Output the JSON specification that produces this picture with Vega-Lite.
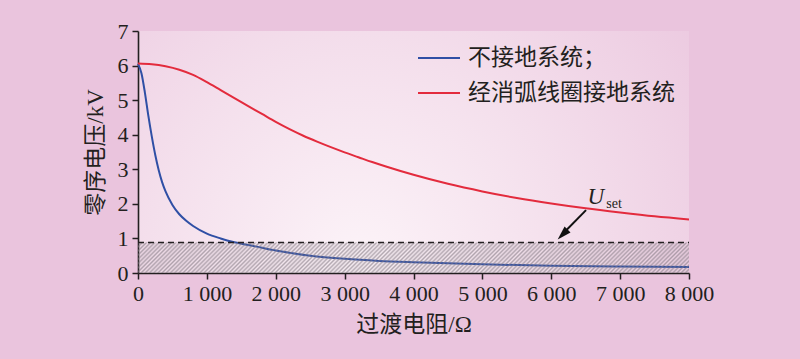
{
  "$schema": "https://vega.github.io/schema/vega-lite/v6.json",
  "width": 551,
  "height": 242,
  "autosize": {"type": "none"},
  "padding": {"left": 138, "top": 31, "right": 111, "bottom": 86},
  "background": "#eac4dd",
  "view": {
    "stroke": null,
    "fill": {
      "gradient": "radial",
      "x1": 0.4, "y1": 0.7, "r1": 0,
      "x2": 0.4, "y2": 0.7, "r2": 0.85,
      "stops": [
        {"offset": 0, "color": "#fcf3f8"},
        {"offset": 0.45, "color": "#f4dfec"},
        {"offset": 1, "color": "#eac4dd"}
      ]
    }
  },
  "config": {
    "font": "Liberation Serif, Noto Sans CJK SC",
    "axis": {
      "grid": false,
      "zindex": 1,
      "domainColor": "#231f20",
      "domainWidth": 1.6,
      "tickColor": "#231f20",
      "tickWidth": 1.5,
      "labelFont": "Liberation Serif",
      "labelFontSize": 22,
      "labelColor": "#231f20",
      "labelFlush": false,
      "labelOverlap": false,
      "titleFont": "Liberation Serif, Noto Sans CJK SC",
      "titleFontSize": 23,
      "titleFontWeight": "normal",
      "titleColor": "#231f20"
    },
    "legend": {
      "orient": "none",
      "legendX": 279,
      "legendY": 5,
      "symbolType": "stroke",
      "symbolSize": 1764,
      "symbolStrokeWidth": 2,
      "labelFont": "Liberation Serif, Noto Sans CJK SC",
      "labelFontSize": 23,
      "labelColor": "#231f20",
      "labelOffset": 7,
      "labelLimit": 400,
      "rowPadding": 1,
      "padding": 0
    }
  },
  "data": {
    "values": [
      {"kind": "curve", "R": 0, "U": 6.05, "s": "不接地系统；"},
      {"kind": "curve", "R": 50, "U": 5.78, "s": "不接地系统；"},
      {"kind": "curve", "R": 100, "U": 5.22, "s": "不接地系统；"},
      {"kind": "curve", "R": 150, "U": 4.55, "s": "不接地系统；"},
      {"kind": "curve", "R": 200, "U": 3.95, "s": "不接地系统；"},
      {"kind": "curve", "R": 250, "U": 3.42, "s": "不接地系统；"},
      {"kind": "curve", "R": 300, "U": 2.98, "s": "不接地系统；"},
      {"kind": "curve", "R": 350, "U": 2.63, "s": "不接地系统；"},
      {"kind": "curve", "R": 400, "U": 2.36, "s": "不接地系统；"},
      {"kind": "curve", "R": 500, "U": 1.97, "s": "不接地系统；"},
      {"kind": "curve", "R": 600, "U": 1.7, "s": "不接地系统；"},
      {"kind": "curve", "R": 700, "U": 1.51, "s": "不接地系统；"},
      {"kind": "curve", "R": 800, "U": 1.36, "s": "不接地系统；"},
      {"kind": "curve", "R": 1000, "U": 1.14, "s": "不接地系统；"},
      {"kind": "curve", "R": 1200, "U": 1.0, "s": "不接地系统；"},
      {"kind": "curve", "R": 1400, "U": 0.89, "s": "不接地系统；"},
      {"kind": "curve", "R": 1700, "U": 0.77, "s": "不接地系统；"},
      {"kind": "curve", "R": 2000, "U": 0.65, "s": "不接地系统；"},
      {"kind": "curve", "R": 2500, "U": 0.5, "s": "不接地系统；"},
      {"kind": "curve", "R": 3000, "U": 0.41, "s": "不接地系统；"},
      {"kind": "curve", "R": 3500, "U": 0.35, "s": "不接地系统；"},
      {"kind": "curve", "R": 4000, "U": 0.31, "s": "不接地系统；"},
      {"kind": "curve", "R": 5000, "U": 0.25, "s": "不接地系统；"},
      {"kind": "curve", "R": 6000, "U": 0.21, "s": "不接地系统；"},
      {"kind": "curve", "R": 7000, "U": 0.19, "s": "不接地系统；"},
      {"kind": "curve", "R": 8000, "U": 0.17, "s": "不接地系统；"},
      {"kind": "curve", "R": 0, "U": 6.06, "s": "经消弧线圈接地系统"},
      {"kind": "curve", "R": 200, "U": 6.04, "s": "经消弧线圈接地系统"},
      {"kind": "curve", "R": 400, "U": 5.98, "s": "经消弧线圈接地系统"},
      {"kind": "curve", "R": 600, "U": 5.88, "s": "经消弧线圈接地系统"},
      {"kind": "curve", "R": 800, "U": 5.73, "s": "经消弧线圈接地系统"},
      {"kind": "curve", "R": 1000, "U": 5.52, "s": "经消弧线圈接地系统"},
      {"kind": "curve", "R": 1200, "U": 5.29, "s": "经消弧线圈接地系统"},
      {"kind": "curve", "R": 1400, "U": 5.06, "s": "经消弧线圈接地系统"},
      {"kind": "curve", "R": 1600, "U": 4.83, "s": "经消弧线圈接地系统"},
      {"kind": "curve", "R": 1800, "U": 4.6, "s": "经消弧线圈接地系统"},
      {"kind": "curve", "R": 2000, "U": 4.37, "s": "经消弧线圈接地系统"},
      {"kind": "curve", "R": 2200, "U": 4.16, "s": "经消弧线圈接地系统"},
      {"kind": "curve", "R": 2400, "U": 3.97, "s": "经消弧线圈接地系统"},
      {"kind": "curve", "R": 2600, "U": 3.8, "s": "经消弧线圈接地系统"},
      {"kind": "curve", "R": 2800, "U": 3.64, "s": "经消弧线圈接地系统"},
      {"kind": "curve", "R": 3000, "U": 3.49, "s": "经消弧线圈接地系统"},
      {"kind": "curve", "R": 3200, "U": 3.35, "s": "经消弧线圈接地系统"},
      {"kind": "curve", "R": 3400, "U": 3.21, "s": "经消弧线圈接地系统"},
      {"kind": "curve", "R": 3600, "U": 3.08, "s": "经消弧线圈接地系统"},
      {"kind": "curve", "R": 4000, "U": 2.84, "s": "经消弧线圈接地系统"},
      {"kind": "curve", "R": 4500, "U": 2.58, "s": "经消弧线圈接地系统"},
      {"kind": "curve", "R": 5000, "U": 2.36, "s": "经消弧线圈接地系统"},
      {"kind": "curve", "R": 5500, "U": 2.17, "s": "经消弧线圈接地系统"},
      {"kind": "curve", "R": 6000, "U": 2.01, "s": "经消弧线圈接地系统"},
      {"kind": "curve", "R": 6500, "U": 1.87, "s": "经消弧线圈接地系统"},
      {"kind": "curve", "R": 7000, "U": 1.75, "s": "经消弧线圈接地系统"},
      {"kind": "curve", "R": 7500, "U": 1.64, "s": "经消弧线圈接地系统"},
      {"kind": "curve", "R": 8000, "U": 1.55, "s": "经消弧线圈接地系统"},
      {"kind": "band", "R": 0, "R2": 8000, "U": 0, "U2": 0.88},
      {"kind": "threshold", "R": 0, "R2": 8000, "U": 0.88},
      {"kind": "arrow", "R": 6505, "R2": 6200, "U": 1.82, "U2": 1.2},
      {"kind": "head", "R": 6093, "U": 0.97},
      {"kind": "label", "R": 6528, "U": 1.99, "t": "U"},
      {"kind": "sub", "R": 6800, "U": 1.87, "t": "set"}
    ]
  },
  "layer": [
    {
      "transform": [{"filter": "datum.kind === 'curve'"}],
      "mark": {"type": "line", "strokeWidth": 2, "interpolate": "monotone"},
      "encoding": {
        "x": {
          "field": "R", "type": "quantitative",
          "scale": {"domain": [0, 8000], "nice": false},
          "axis": {
            "title": "过渡电阻/Ω",
            "values": [0, 1000, 2000, 3000, 4000, 5000, 6000, 7000, 8000],
            "tickCount": 20,
            "labelOverlap": false,
            "ticks": true,
            "tickSize": 6,
            "labelPadding": 4,
            "encode": {"ticks": {"update": {"y2": {"value": -6}}}},
            "labelExpr": "replace(format(datum.value, ',d'), ',', ' ')",
            "titleX": 275.5,
            "titleY": 51,
            "titleAlign": "center",
            "titleBaseline": "middle"
          }
        },
        "y": {
          "field": "U", "type": "quantitative",
          "scale": {"domain": [0, 7], "nice": false},
          "axis": {
            "title": "零序电压/kV",
            "values": [0, 1, 2, 3, 4, 5, 6, 7],
            "tickCount": 20,
            "format": "d",
            "labelOverlap": false,
            "ticks": true,
            "tickSize": 6,
            "labelPadding": 4,
            "encode": {"ticks": {"update": {"x2": {"value": 6}}}},
            "titleX": -43,
            "titleY": 121,
            "titleAlign": "center",
            "titleBaseline": "middle",
            "titleAngle": -90
          }
        },
        "color": {
          "field": "s", "type": "nominal",
          "scale": {"domain": ["不接地系统；", "经消弧线圈接地系统"], "range": ["#2f4fa5", "#e32b3d"]},
          "legend": {"title": null}
        }
      }
    },
    {
      "transform": [{"filter": "datum.kind === 'band'"}],
      "mark": {
        "type": "rect",
        "fill": {
          "gradient": "linear",
          "x1": 0, "y1": 0, "x2": 1.052, "y2": 0.05807,
          "stops": [
            {"offset": 0, "color": "rgba(130,120,130,.6)"},
            {"offset": 0.0036, "color": "rgba(130,120,130,.05)"},
            {"offset": 0.0072, "color": "rgba(130,120,130,.6)"},
            {"offset": 0.0108, "color": "rgba(130,120,130,.05)"},
            {"offset": 0.0144, "color": "rgba(130,120,130,.6)"},
            {"offset": 0.018, "color": "rgba(130,120,130,.05)"},
            {"offset": 0.0216, "color": "rgba(130,120,130,.6)"},
            {"offset": 0.0252, "color": "rgba(130,120,130,.05)"},
            {"offset": 0.0288, "color": "rgba(130,120,130,.6)"},
            {"offset": 0.0324, "color": "rgba(130,120,130,.05)"},
            {"offset": 0.036, "color": "rgba(130,120,130,.6)"},
            {"offset": 0.0396, "color": "rgba(130,120,130,.05)"},
            {"offset": 0.0432, "color": "rgba(130,120,130,.6)"},
            {"offset": 0.0468, "color": "rgba(130,120,130,.05)"},
            {"offset": 0.0504, "color": "rgba(130,120,130,.6)"},
            {"offset": 0.054, "color": "rgba(130,120,130,.05)"},
            {"offset": 0.0576, "color": "rgba(130,120,130,.6)"},
            {"offset": 0.0612, "color": "rgba(130,120,130,.05)"},
            {"offset": 0.0648, "color": "rgba(130,120,130,.6)"},
            {"offset": 0.0684, "color": "rgba(130,120,130,.05)"},
            {"offset": 0.072, "color": "rgba(130,120,130,.6)"},
            {"offset": 0.0756, "color": "rgba(130,120,130,.05)"},
            {"offset": 0.0792, "color": "rgba(130,120,130,.6)"},
            {"offset": 0.0828, "color": "rgba(130,120,130,.05)"},
            {"offset": 0.0864, "color": "rgba(130,120,130,.6)"},
            {"offset": 0.09, "color": "rgba(130,120,130,.05)"},
            {"offset": 0.0936, "color": "rgba(130,120,130,.6)"},
            {"offset": 0.0972, "color": "rgba(130,120,130,.05)"},
            {"offset": 0.1008, "color": "rgba(130,120,130,.6)"},
            {"offset": 0.1044, "color": "rgba(130,120,130,.05)"},
            {"offset": 0.108, "color": "rgba(130,120,130,.6)"},
            {"offset": 0.1116, "color": "rgba(130,120,130,.05)"},
            {"offset": 0.1152, "color": "rgba(130,120,130,.6)"},
            {"offset": 0.1188, "color": "rgba(130,120,130,.05)"},
            {"offset": 0.1224, "color": "rgba(130,120,130,.6)"},
            {"offset": 0.126, "color": "rgba(130,120,130,.05)"},
            {"offset": 0.1296, "color": "rgba(130,120,130,.6)"},
            {"offset": 0.1332, "color": "rgba(130,120,130,.05)"},
            {"offset": 0.1368, "color": "rgba(130,120,130,.6)"},
            {"offset": 0.1404, "color": "rgba(130,120,130,.05)"},
            {"offset": 0.144, "color": "rgba(130,120,130,.6)"},
            {"offset": 0.1476, "color": "rgba(130,120,130,.05)"},
            {"offset": 0.1512, "color": "rgba(130,120,130,.6)"},
            {"offset": 0.1548, "color": "rgba(130,120,130,.05)"},
            {"offset": 0.1584, "color": "rgba(130,120,130,.6)"},
            {"offset": 0.162, "color": "rgba(130,120,130,.05)"},
            {"offset": 0.1656, "color": "rgba(130,120,130,.6)"},
            {"offset": 0.1692, "color": "rgba(130,120,130,.05)"},
            {"offset": 0.1728, "color": "rgba(130,120,130,.6)"},
            {"offset": 0.1764, "color": "rgba(130,120,130,.05)"},
            {"offset": 0.18, "color": "rgba(130,120,130,.6)"},
            {"offset": 0.1836, "color": "rgba(130,120,130,.05)"},
            {"offset": 0.1872, "color": "rgba(130,120,130,.6)"},
            {"offset": 0.1908, "color": "rgba(130,120,130,.05)"},
            {"offset": 0.1944, "color": "rgba(130,120,130,.6)"},
            {"offset": 0.198, "color": "rgba(130,120,130,.05)"},
            {"offset": 0.2016, "color": "rgba(130,120,130,.6)"},
            {"offset": 0.2052, "color": "rgba(130,120,130,.05)"},
            {"offset": 0.2088, "color": "rgba(130,120,130,.6)"},
            {"offset": 0.2124, "color": "rgba(130,120,130,.05)"},
            {"offset": 0.216, "color": "rgba(130,120,130,.6)"},
            {"offset": 0.2196, "color": "rgba(130,120,130,.05)"},
            {"offset": 0.2232, "color": "rgba(130,120,130,.6)"},
            {"offset": 0.2268, "color": "rgba(130,120,130,.05)"},
            {"offset": 0.2304, "color": "rgba(130,120,130,.6)"},
            {"offset": 0.234, "color": "rgba(130,120,130,.05)"},
            {"offset": 0.2376, "color": "rgba(130,120,130,.6)"},
            {"offset": 0.2412, "color": "rgba(130,120,130,.05)"},
            {"offset": 0.2448, "color": "rgba(130,120,130,.6)"},
            {"offset": 0.2484, "color": "rgba(130,120,130,.05)"},
            {"offset": 0.252, "color": "rgba(130,120,130,.6)"},
            {"offset": 0.2556, "color": "rgba(130,120,130,.05)"},
            {"offset": 0.2592, "color": "rgba(130,120,130,.6)"},
            {"offset": 0.2628, "color": "rgba(130,120,130,.05)"},
            {"offset": 0.2664, "color": "rgba(130,120,130,.6)"},
            {"offset": 0.27, "color": "rgba(130,120,130,.05)"},
            {"offset": 0.2736, "color": "rgba(130,120,130,.6)"},
            {"offset": 0.2772, "color": "rgba(130,120,130,.05)"},
            {"offset": 0.2808, "color": "rgba(130,120,130,.6)"},
            {"offset": 0.2844, "color": "rgba(130,120,130,.05)"},
            {"offset": 0.288, "color": "rgba(130,120,130,.6)"},
            {"offset": 0.2916, "color": "rgba(130,120,130,.05)"},
            {"offset": 0.2952, "color": "rgba(130,120,130,.6)"},
            {"offset": 0.2988, "color": "rgba(130,120,130,.05)"},
            {"offset": 0.3024, "color": "rgba(130,120,130,.6)"},
            {"offset": 0.306, "color": "rgba(130,120,130,.05)"},
            {"offset": 0.3096, "color": "rgba(130,120,130,.6)"},
            {"offset": 0.3132, "color": "rgba(130,120,130,.05)"},
            {"offset": 0.3168, "color": "rgba(130,120,130,.6)"},
            {"offset": 0.3204, "color": "rgba(130,120,130,.05)"},
            {"offset": 0.324, "color": "rgba(130,120,130,.6)"},
            {"offset": 0.3276, "color": "rgba(130,120,130,.05)"},
            {"offset": 0.3312, "color": "rgba(130,120,130,.6)"},
            {"offset": 0.3348, "color": "rgba(130,120,130,.05)"},
            {"offset": 0.3384, "color": "rgba(130,120,130,.6)"},
            {"offset": 0.342, "color": "rgba(130,120,130,.05)"},
            {"offset": 0.3456, "color": "rgba(130,120,130,.6)"},
            {"offset": 0.3492, "color": "rgba(130,120,130,.05)"},
            {"offset": 0.3528, "color": "rgba(130,120,130,.6)"},
            {"offset": 0.3564, "color": "rgba(130,120,130,.05)"},
            {"offset": 0.36, "color": "rgba(130,120,130,.6)"},
            {"offset": 0.3636, "color": "rgba(130,120,130,.05)"},
            {"offset": 0.3672, "color": "rgba(130,120,130,.6)"},
            {"offset": 0.3708, "color": "rgba(130,120,130,.05)"},
            {"offset": 0.3744, "color": "rgba(130,120,130,.6)"},
            {"offset": 0.378, "color": "rgba(130,120,130,.05)"},
            {"offset": 0.3816, "color": "rgba(130,120,130,.6)"},
            {"offset": 0.3852, "color": "rgba(130,120,130,.05)"},
            {"offset": 0.3888, "color": "rgba(130,120,130,.6)"},
            {"offset": 0.3924, "color": "rgba(130,120,130,.05)"},
            {"offset": 0.396, "color": "rgba(130,120,130,.6)"},
            {"offset": 0.3996, "color": "rgba(130,120,130,.05)"},
            {"offset": 0.4032, "color": "rgba(130,120,130,.6)"},
            {"offset": 0.4068, "color": "rgba(130,120,130,.05)"},
            {"offset": 0.4104, "color": "rgba(130,120,130,.6)"},
            {"offset": 0.414, "color": "rgba(130,120,130,.05)"},
            {"offset": 0.4176, "color": "rgba(130,120,130,.6)"},
            {"offset": 0.4212, "color": "rgba(130,120,130,.05)"},
            {"offset": 0.4248, "color": "rgba(130,120,130,.6)"},
            {"offset": 0.4284, "color": "rgba(130,120,130,.05)"},
            {"offset": 0.432, "color": "rgba(130,120,130,.6)"},
            {"offset": 0.4356, "color": "rgba(130,120,130,.05)"},
            {"offset": 0.4392, "color": "rgba(130,120,130,.6)"},
            {"offset": 0.4428, "color": "rgba(130,120,130,.05)"},
            {"offset": 0.4464, "color": "rgba(130,120,130,.6)"},
            {"offset": 0.45, "color": "rgba(130,120,130,.05)"},
            {"offset": 0.4536, "color": "rgba(130,120,130,.6)"},
            {"offset": 0.4572, "color": "rgba(130,120,130,.05)"},
            {"offset": 0.4608, "color": "rgba(130,120,130,.6)"},
            {"offset": 0.4644, "color": "rgba(130,120,130,.05)"},
            {"offset": 0.468, "color": "rgba(130,120,130,.6)"},
            {"offset": 0.4716, "color": "rgba(130,120,130,.05)"},
            {"offset": 0.4752, "color": "rgba(130,120,130,.6)"},
            {"offset": 0.4788, "color": "rgba(130,120,130,.05)"},
            {"offset": 0.4824, "color": "rgba(130,120,130,.6)"},
            {"offset": 0.486, "color": "rgba(130,120,130,.05)"},
            {"offset": 0.4896, "color": "rgba(130,120,130,.6)"},
            {"offset": 0.4932, "color": "rgba(130,120,130,.05)"},
            {"offset": 0.4968, "color": "rgba(130,120,130,.6)"},
            {"offset": 0.5004, "color": "rgba(130,120,130,.05)"},
            {"offset": 0.504, "color": "rgba(130,120,130,.6)"},
            {"offset": 0.5076, "color": "rgba(130,120,130,.05)"},
            {"offset": 0.5112, "color": "rgba(130,120,130,.6)"},
            {"offset": 0.5148, "color": "rgba(130,120,130,.05)"},
            {"offset": 0.5184, "color": "rgba(130,120,130,.6)"},
            {"offset": 0.522, "color": "rgba(130,120,130,.05)"},
            {"offset": 0.5256, "color": "rgba(130,120,130,.6)"},
            {"offset": 0.5292, "color": "rgba(130,120,130,.05)"},
            {"offset": 0.5328, "color": "rgba(130,120,130,.6)"},
            {"offset": 0.5364, "color": "rgba(130,120,130,.05)"},
            {"offset": 0.54, "color": "rgba(130,120,130,.6)"},
            {"offset": 0.5436, "color": "rgba(130,120,130,.05)"},
            {"offset": 0.5472, "color": "rgba(130,120,130,.6)"},
            {"offset": 0.5508, "color": "rgba(130,120,130,.05)"},
            {"offset": 0.5544, "color": "rgba(130,120,130,.6)"},
            {"offset": 0.558, "color": "rgba(130,120,130,.05)"},
            {"offset": 0.5616, "color": "rgba(130,120,130,.6)"},
            {"offset": 0.5652, "color": "rgba(130,120,130,.05)"},
            {"offset": 0.5688, "color": "rgba(130,120,130,.6)"},
            {"offset": 0.5724, "color": "rgba(130,120,130,.05)"},
            {"offset": 0.576, "color": "rgba(130,120,130,.6)"},
            {"offset": 0.5796, "color": "rgba(130,120,130,.05)"},
            {"offset": 0.5832, "color": "rgba(130,120,130,.6)"},
            {"offset": 0.5868, "color": "rgba(130,120,130,.05)"},
            {"offset": 0.5904, "color": "rgba(130,120,130,.6)"},
            {"offset": 0.594, "color": "rgba(130,120,130,.05)"},
            {"offset": 0.5976, "color": "rgba(130,120,130,.6)"},
            {"offset": 0.6012, "color": "rgba(130,120,130,.05)"},
            {"offset": 0.6048, "color": "rgba(130,120,130,.6)"},
            {"offset": 0.6084, "color": "rgba(130,120,130,.05)"},
            {"offset": 0.612, "color": "rgba(130,120,130,.6)"},
            {"offset": 0.6156, "color": "rgba(130,120,130,.05)"},
            {"offset": 0.6192, "color": "rgba(130,120,130,.6)"},
            {"offset": 0.6228, "color": "rgba(130,120,130,.05)"},
            {"offset": 0.6264, "color": "rgba(130,120,130,.6)"},
            {"offset": 0.63, "color": "rgba(130,120,130,.05)"},
            {"offset": 0.6336, "color": "rgba(130,120,130,.6)"},
            {"offset": 0.6372, "color": "rgba(130,120,130,.05)"},
            {"offset": 0.6408, "color": "rgba(130,120,130,.6)"},
            {"offset": 0.6444, "color": "rgba(130,120,130,.05)"},
            {"offset": 0.648, "color": "rgba(130,120,130,.6)"},
            {"offset": 0.6516, "color": "rgba(130,120,130,.05)"},
            {"offset": 0.6552, "color": "rgba(130,120,130,.6)"},
            {"offset": 0.6588, "color": "rgba(130,120,130,.05)"},
            {"offset": 0.6624, "color": "rgba(130,120,130,.6)"},
            {"offset": 0.666, "color": "rgba(130,120,130,.05)"},
            {"offset": 0.6696, "color": "rgba(130,120,130,.6)"},
            {"offset": 0.6732, "color": "rgba(130,120,130,.05)"},
            {"offset": 0.6768, "color": "rgba(130,120,130,.6)"},
            {"offset": 0.6804, "color": "rgba(130,120,130,.05)"},
            {"offset": 0.684, "color": "rgba(130,120,130,.6)"},
            {"offset": 0.6876, "color": "rgba(130,120,130,.05)"},
            {"offset": 0.6912, "color": "rgba(130,120,130,.6)"},
            {"offset": 0.6948, "color": "rgba(130,120,130,.05)"},
            {"offset": 0.6984, "color": "rgba(130,120,130,.6)"},
            {"offset": 0.702, "color": "rgba(130,120,130,.05)"},
            {"offset": 0.7056, "color": "rgba(130,120,130,.6)"},
            {"offset": 0.7092, "color": "rgba(130,120,130,.05)"},
            {"offset": 0.7128, "color": "rgba(130,120,130,.6)"},
            {"offset": 0.7164, "color": "rgba(130,120,130,.05)"},
            {"offset": 0.72, "color": "rgba(130,120,130,.6)"},
            {"offset": 0.7236, "color": "rgba(130,120,130,.05)"},
            {"offset": 0.7272, "color": "rgba(130,120,130,.6)"},
            {"offset": 0.7308, "color": "rgba(130,120,130,.05)"},
            {"offset": 0.7344, "color": "rgba(130,120,130,.6)"},
            {"offset": 0.738, "color": "rgba(130,120,130,.05)"},
            {"offset": 0.7416, "color": "rgba(130,120,130,.6)"},
            {"offset": 0.7452, "color": "rgba(130,120,130,.05)"},
            {"offset": 0.7488, "color": "rgba(130,120,130,.6)"},
            {"offset": 0.7524, "color": "rgba(130,120,130,.05)"},
            {"offset": 0.756, "color": "rgba(130,120,130,.6)"},
            {"offset": 0.7596, "color": "rgba(130,120,130,.05)"},
            {"offset": 0.7632, "color": "rgba(130,120,130,.6)"},
            {"offset": 0.7668, "color": "rgba(130,120,130,.05)"},
            {"offset": 0.7704, "color": "rgba(130,120,130,.6)"},
            {"offset": 0.774, "color": "rgba(130,120,130,.05)"},
            {"offset": 0.7776, "color": "rgba(130,120,130,.6)"},
            {"offset": 0.7812, "color": "rgba(130,120,130,.05)"},
            {"offset": 0.7848, "color": "rgba(130,120,130,.6)"},
            {"offset": 0.7884, "color": "rgba(130,120,130,.05)"},
            {"offset": 0.792, "color": "rgba(130,120,130,.6)"},
            {"offset": 0.7956, "color": "rgba(130,120,130,.05)"},
            {"offset": 0.7992, "color": "rgba(130,120,130,.6)"},
            {"offset": 0.8028, "color": "rgba(130,120,130,.05)"},
            {"offset": 0.8064, "color": "rgba(130,120,130,.6)"},
            {"offset": 0.81, "color": "rgba(130,120,130,.05)"},
            {"offset": 0.8136, "color": "rgba(130,120,130,.6)"},
            {"offset": 0.8172, "color": "rgba(130,120,130,.05)"},
            {"offset": 0.8208, "color": "rgba(130,120,130,.6)"},
            {"offset": 0.8244, "color": "rgba(130,120,130,.05)"},
            {"offset": 0.828, "color": "rgba(130,120,130,.6)"},
            {"offset": 0.8316, "color": "rgba(130,120,130,.05)"},
            {"offset": 0.8352, "color": "rgba(130,120,130,.6)"},
            {"offset": 0.8388, "color": "rgba(130,120,130,.05)"},
            {"offset": 0.8424, "color": "rgba(130,120,130,.6)"},
            {"offset": 0.846, "color": "rgba(130,120,130,.05)"},
            {"offset": 0.8496, "color": "rgba(130,120,130,.6)"},
            {"offset": 0.8532, "color": "rgba(130,120,130,.05)"},
            {"offset": 0.8568, "color": "rgba(130,120,130,.6)"},
            {"offset": 0.8604, "color": "rgba(130,120,130,.05)"},
            {"offset": 0.864, "color": "rgba(130,120,130,.6)"},
            {"offset": 0.8676, "color": "rgba(130,120,130,.05)"},
            {"offset": 0.8712, "color": "rgba(130,120,130,.6)"},
            {"offset": 0.8748, "color": "rgba(130,120,130,.05)"},
            {"offset": 0.8784, "color": "rgba(130,120,130,.6)"},
            {"offset": 0.882, "color": "rgba(130,120,130,.05)"},
            {"offset": 0.8856, "color": "rgba(130,120,130,.6)"},
            {"offset": 0.8892, "color": "rgba(130,120,130,.05)"},
            {"offset": 0.8928, "color": "rgba(130,120,130,.6)"},
            {"offset": 0.8964, "color": "rgba(130,120,130,.05)"},
            {"offset": 0.9, "color": "rgba(130,120,130,.6)"},
            {"offset": 0.9036, "color": "rgba(130,120,130,.05)"},
            {"offset": 0.9072, "color": "rgba(130,120,130,.6)"},
            {"offset": 0.9108, "color": "rgba(130,120,130,.05)"},
            {"offset": 0.9144, "color": "rgba(130,120,130,.6)"},
            {"offset": 0.918, "color": "rgba(130,120,130,.05)"},
            {"offset": 0.9216, "color": "rgba(130,120,130,.6)"},
            {"offset": 0.9252, "color": "rgba(130,120,130,.05)"},
            {"offset": 0.9288, "color": "rgba(130,120,130,.6)"},
            {"offset": 0.9324, "color": "rgba(130,120,130,.05)"},
            {"offset": 0.936, "color": "rgba(130,120,130,.6)"},
            {"offset": 0.9396, "color": "rgba(130,120,130,.05)"},
            {"offset": 0.9432, "color": "rgba(130,120,130,.6)"},
            {"offset": 0.9468, "color": "rgba(130,120,130,.05)"},
            {"offset": 0.9504, "color": "rgba(130,120,130,.6)"},
            {"offset": 0.954, "color": "rgba(130,120,130,.05)"},
            {"offset": 0.9576, "color": "rgba(130,120,130,.6)"},
            {"offset": 0.9612, "color": "rgba(130,120,130,.05)"},
            {"offset": 0.9648, "color": "rgba(130,120,130,.6)"},
            {"offset": 0.9684, "color": "rgba(130,120,130,.05)"},
            {"offset": 0.972, "color": "rgba(130,120,130,.6)"},
            {"offset": 0.9756, "color": "rgba(130,120,130,.05)"},
            {"offset": 0.9792, "color": "rgba(130,120,130,.6)"},
            {"offset": 0.9828, "color": "rgba(130,120,130,.05)"},
            {"offset": 0.9864, "color": "rgba(130,120,130,.6)"},
            {"offset": 0.99, "color": "rgba(130,120,130,.05)"},
            {"offset": 0.9936, "color": "rgba(130,120,130,.6)"},
            {"offset": 0.9972, "color": "rgba(130,120,130,.05)"},
            {"offset": 1, "color": "rgba(130,120,130,.6)"}
          ]
        }
      },
      "encoding": {
        "x": {"field": "R", "type": "quantitative"},
        "x2": {"field": "R2"},
        "y": {"field": "U", "type": "quantitative"},
        "y2": {"field": "U2"}
      }
    },
    {
      "transform": [{"filter": "datum.kind === 'threshold'"}],
      "mark": {"type": "rule", "color": "#231f20", "strokeWidth": 1.5, "strokeDash": [6, 4]},
      "encoding": {
        "x": {"field": "R", "type": "quantitative"},
        "x2": {"field": "R2"},
        "y": {"field": "U", "type": "quantitative"}
      }
    },
    {
      "transform": [{"filter": "datum.kind === 'arrow'"}],
      "mark": {"type": "rule", "color": "#111111", "strokeWidth": 2},
      "encoding": {
        "x": {"field": "R", "type": "quantitative"},
        "x2": {"field": "R2"},
        "y": {"field": "U", "type": "quantitative"},
        "y2": {"field": "U2"}
      }
    },
    {
      "transform": [{"filter": "datum.kind === 'head'"}],
      "mark": {"type": "point", "shape": "M0,0L-0.6,2L0.6,2Z", "filled": true, "color": "#111111", "opacity": 1, "size": 196, "angle": 225},
      "encoding": {
        "x": {"field": "R", "type": "quantitative"},
        "y": {"field": "U", "type": "quantitative"}
      }
    },
    {
      "transform": [{"filter": "datum.kind === 'label'"}],
      "mark": {"type": "text", "font": "Liberation Serif", "fontStyle": "italic", "fontSize": 23, "color": "#231f20", "align": "left", "baseline": "alphabetic"},
      "encoding": {
        "x": {"field": "R", "type": "quantitative"},
        "y": {"field": "U", "type": "quantitative"},
        "text": {"field": "t"}
      }
    },
    {
      "transform": [{"filter": "datum.kind === 'sub'"}],
      "mark": {"type": "text", "font": "Liberation Serif", "fontSize": 14, "color": "#231f20", "align": "left", "baseline": "alphabetic"},
      "encoding": {
        "x": {"field": "R", "type": "quantitative"},
        "y": {"field": "U", "type": "quantitative"},
        "text": {"field": "t"}
      }
    }
  ]
}
